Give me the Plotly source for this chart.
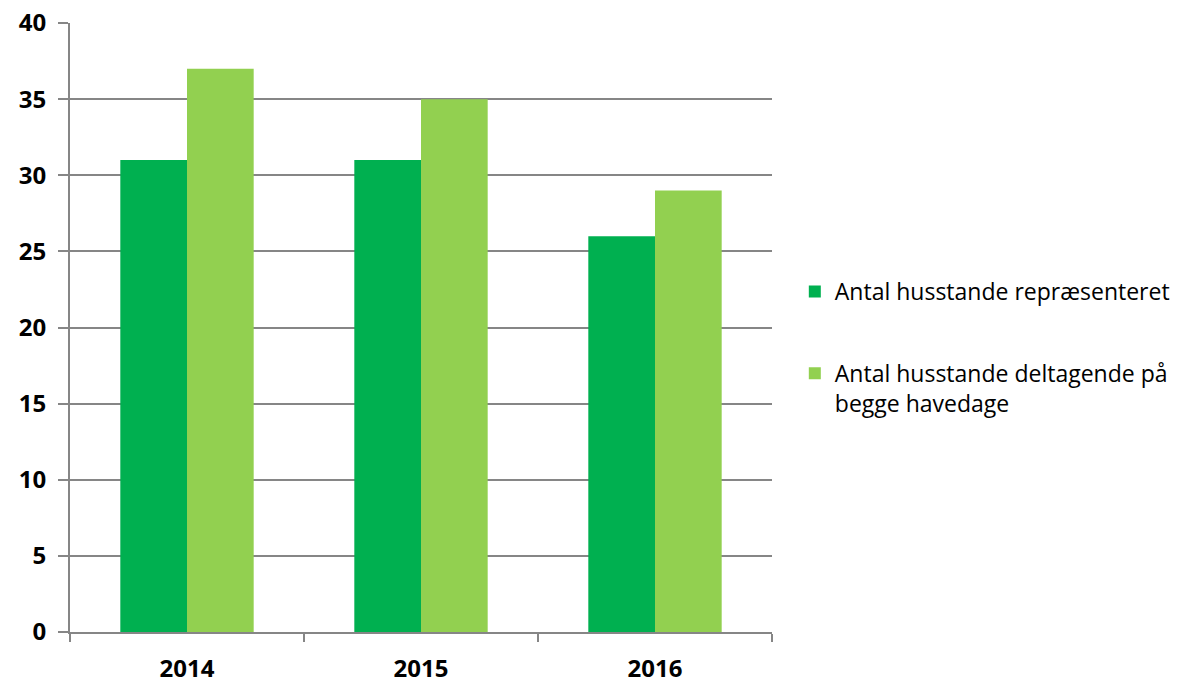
import plotly.graph_objects as go

years = ["2014", "2015", "2016"]
represented = [31, 31, 26]
both_days = [37, 35, 29]
name_a = "Antal husstande repræsenteret"
name_b = "Antal husstande deltagende på<br>begge havedage"
y_ticks = [0, 5, 10, 15, 20, 25, 30, 35, 40]

xpos = list(range(len(years)))
fig = go.Figure()
fig.add_trace(go.Bar(x=xpos, y=represented, name=name_a, marker_color="#00B050",
                     legendgroup="a", marker_line_width=0))
fig.add_trace(go.Bar(x=xpos, y=both_days, name=name_b, marker_color="#92D050",
                     legendgroup="b", marker_line_width=0))

fig.update_layout(
    width=1170, height=674,
    margin=dict(l=62, r=406, t=15, b=50, autoexpand=False),
    paper_bgcolor="white", plot_bgcolor="white",
    barmode="group", bargap=0.43, bargroupgap=0,
    font=dict(family="Open Sans", color="black"),
    legend=dict(x=1.0325, y=0.5945, xanchor="left", yanchor="top",
                font=dict(size=23, color="black"), valign="top",
                tracegroupgap=49, traceorder="grouped",
                bgcolor="rgba(0,0,0,0)"),
    xaxis=dict(
        range=[-0.5, 2.5], tickvals=xpos, ticktext=years, ticks="",
        showgrid=False, showline=True, linecolor="#868686", linewidth=2,
        tickfont=dict(size=24, family="Open Sans", color="black", weight="bold"),
        ticklabelstandoff=14, automargin=False, ticklabeloverflow="allow",
        minor=dict(tickvals=[-0.5, 0.5, 1.5, 2.5], ticks="outside", ticklen=8,
                   tickcolor="#868686", tickwidth=2, showgrid=False),
        zeroline=False,
    ),
    yaxis=dict(
        range=[0, 40], tickvals=y_ticks, ticks="outside", ticklen=10,
        tickcolor="#868686", tickwidth=2,
        showgrid=True, gridcolor="#868686", gridwidth=2,
        showline=True, linecolor="#868686", linewidth=2,
        zeroline=False, automargin=False, ticklabeloverflow="allow",
        tickfont=dict(size=24, family="Open Sans", color="black", weight="bold"),
        ticklabelstandoff=7,
    ),
)

fig.write_html("out.html")
